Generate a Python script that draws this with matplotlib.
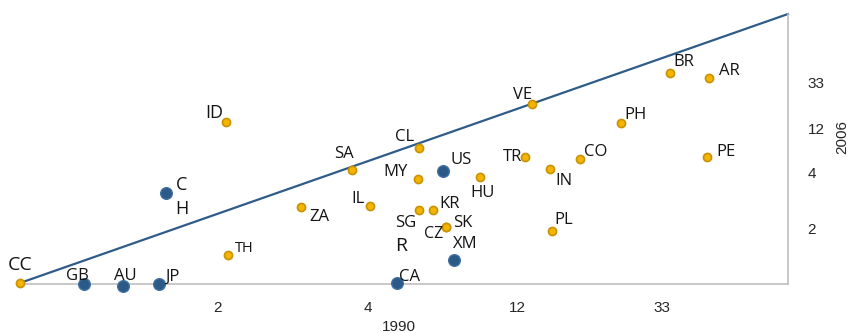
import matplotlib
matplotlib.use("Agg")
import matplotlib.pyplot as plt

# ---- data (x: 1990 value, y: 2006 value, in chart units) ----
orange_names = ["CC", "TH", "ID", "ZA", "SA", "CL", "MY", "IL", "SG", "KR", "SK", "CZ",
                "HU", "VE", "TR", "IN", "CO", "PH", "BR", "AR", "PE", "PL"]
orange_x = [0, 208, 206, 281, 332, 399, 398, 350, 399, 413, 426, 426,
            460, 512, 505, 530, 560, 601, 650, 689, 687, 532]
orange_y = [1, 29, 162, 77, 114, 136, 105, 78, 74, 74, 57, 57,
            107, 180, 127, 115, 125, 161, 211, 206, 127, 53]

blue_names = ["GB", "AU", "JP", "CH", "US", "XM", "CA"]
blue_x = [64, 103, 139, 146, 423, 434, 377]
blue_y = [0, -2, 0, 91, 113, 24, 1]

trend_x = [0, 768]
trend_y = [1, 270]

x_ticks = [198, 348, 497, 642]
x_tick_labels = ["2", "4", "12", "33"]
y_ticks = [202, 156, 112, 56]
y_tick_labels = ["33", "12", "4", "2"]

x_title = "1990"
y_title = "2006"
free_label = "R"
free_label_pos = (381, 33)

# ---- label placement (pixel offsets from the point: dx to centre, dy to baseline) ----
label_offsets = {
    "CC": (0, 13), "TH": (16, 3), "ID": (-12, 4), "ZA": (18, -14), "SA": (-8, 12),
    "CL": (-14, 7), "MY": (-22, 3), "IL": (-12, 3), "SG": (-13, -17), "KR": (17, 2),
    "SK": (17, 0), "CZ": (-12, -11), "HU": (3, -20), "VE": (-9, 5), "TR": (-12, -4),
    "IN": (14, -16), "CO": (16, 3), "PH": (15, 4), "BR": (14, 7), "AR": (20, 3),
    "PE": (19, 1), "PL": (12, 7),
    "GB": (-7, 4), "AU": (2, 6), "JP": (14, 3), "US": (18, 7), "XM": (11, 12),
    "CA": (12, 2),
}
label_sizes = {"CC": 14, "TH": 10.5, "ID": 13, "CZ": 11.5}
default_size = 12

W, H = 849, 333
fig = plt.figure(figsize=(W / 100, H / 100), dpi=100)
ax = fig.add_axes([20 / W, (H - 284) / H, 768 / W, 270 / H])
ax.set_xlim(0, 768)
ax.set_ylim(0, 270)

label_font = "Open Sans"
txt_color = "#141414"
orange_fc, orange_ec = "#F4B400", "#C99300"
blue_fc, blue_ec = "#2C5A88", "#3F6E9E"

ax.plot(trend_x, trend_y, color="#2E5B88", lw=1.6, zorder=2, clip_on=False)
ax.scatter(orange_x, orange_y, s=34, c=orange_fc, edgecolors=orange_ec, linewidths=1.2,
           zorder=3, clip_on=False)
ax.scatter(blue_x, blue_y, s=70, c=blue_fc, edgecolors=blue_ec, linewidths=1.0,
           zorder=3, clip_on=False)

for names, xs, ys in [(orange_names, orange_x, orange_y), (blue_names, blue_x, blue_y)]:
    for n, x, y in zip(names, xs, ys):
        if n == "CH":
            ax.annotate("C", (x, y), xytext=(16, 3), textcoords="offset pixels",
                        ha="center", va="baseline", fontsize=13, family=label_font,
                        color=txt_color, annotation_clip=False)
            ax.annotate("H", (x, y), xytext=(16, -21), textcoords="offset pixels",
                        ha="center", va="baseline", fontsize=13, family=label_font,
                        color=txt_color, annotation_clip=False)
            continue
        dx, dy = label_offsets[n]
        ax.annotate(n, (x, y), xytext=(dx, dy), textcoords="offset pixels",
                    ha="center", va="baseline", fontsize=label_sizes.get(n, default_size),
                    family=label_font, color=txt_color, annotation_clip=False)

ax.text(free_label_pos[0], free_label_pos[1], free_label, ha="center", va="baseline",
        fontsize=14, family=label_font, color=txt_color)

for s in ["top", "left"]:
    ax.spines[s].set_visible(False)
for s in ["bottom", "right"]:
    ax.spines[s].set_color("#BFBFBF")
    ax.spines[s].set_linewidth(1.2)

ax.yaxis.tick_right()
ax.set_xticks(x_ticks)
ax.set_xticklabels(x_tick_labels)
ax.set_yticks(y_ticks)
ax.set_yticklabels(y_tick_labels)
ax.tick_params(axis="both", length=0, labelsize=11, colors="#262626")
ax.tick_params(axis="x", pad=12)
ax.tick_params(axis="y", pad=14)
for lab in ax.get_xticklabels() + ax.get_yticklabels():
    lab.set_family("Liberation Sans")

fig.text(399 / W, (H - 327) / H, x_title, ha="center", va="center", fontsize=11,
         family="Liberation Sans", color="#262626")
fig.text(842.5 / W, (H - 137.5) / H, y_title, ha="center", va="center", rotation=90,
         fontsize=11, family="Liberation Sans", color="#262626")

fig.savefig("out.png", dpi=100)
